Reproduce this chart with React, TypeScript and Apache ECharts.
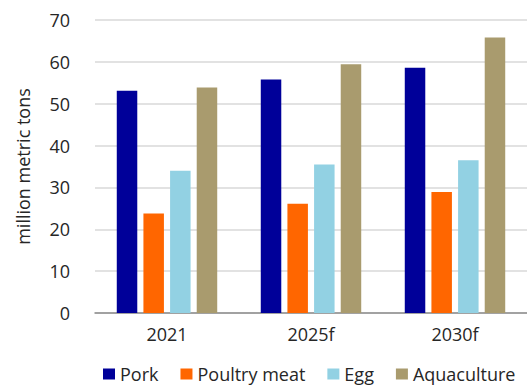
import React, { useEffect, useRef } from "react";
import * as echarts from "echarts";

const categories = ["2021", "2025f", "2030f"];
const pork = [53.1, 55.8, 58.6];
const poultryMeat = [23.8, 26.1, 28.9];
const egg = [34.0, 35.5, 36.5];
const aquaculture = [53.9, 59.4, 65.8];

const seriesNames = ["Pork", "Poultry meat", "Egg", "Aquaculture"];
const seriesColors = ["#000099", "#FF6600", "#92D1E3", "#A99B6E"];
const seriesValues = [pork, poultryMeat, egg, aquaculture];

const FONT = "Open Sans";
const SIZE = 18;
const TEXT = "#262626";

export default function App() {
  const ref = useRef<HTMLDivElement>(null);

  useEffect(() => {
    if (!ref.current) return;
    const chart = echarts.init(ref.current, null, { renderer: "svg" });
    chart.setOption({
      animation: false,
      textStyle: { fontFamily: FONT },
      grid: { left: 95, top: 20, width: 437, height: 293, containLabel: false },
      legend: {
        left: 103,
        top: 365,
        width: 424,
        itemWidth: 12,
        itemHeight: 11,
        itemGap: 22,
        icon: "rect",
        padding: 0,
        textStyle: { fontFamily: FONT, fontSize: SIZE, color: TEXT },
        data: seriesNames,
      },
      xAxis: {
        type: "category",
        data: categories,
        axisTick: { show: false },
        axisLine: { lineStyle: { color: "#8c8c8c", width: 1.5 } },
        axisLabel: { fontFamily: FONT, fontSize: SIZE, color: TEXT, margin: 12 },
      },
      yAxis: {
        type: "value",
        min: 0,
        max: 70,
        interval: 10,
        name: "million metric tons",
        nameLocation: "middle",
        nameGap: 63,
        nameTextStyle: { fontFamily: FONT, fontSize: SIZE, color: TEXT },
        axisLine: { show: false },
        axisTick: { show: false },
        axisLabel: { fontFamily: FONT, fontSize: SIZE, color: TEXT, margin: 25 },
        splitLine: { lineStyle: { color: "#d9d9d9", width: 1.5 } },
      },
      series: seriesNames.map((name, i) => ({
        name,
        type: "bar",
        data: seriesValues[i],
        barWidth: 20.5,
        barGap: "30%",
        itemStyle: { color: seriesColors[i] },
      })),
    });
    return () => chart.dispose();
  }, []);

  return (
    <div
      ref={ref}
      style={{ position: "absolute", left: 0, top: 0, width: 527, height: 385 }}
    />
  );
}
